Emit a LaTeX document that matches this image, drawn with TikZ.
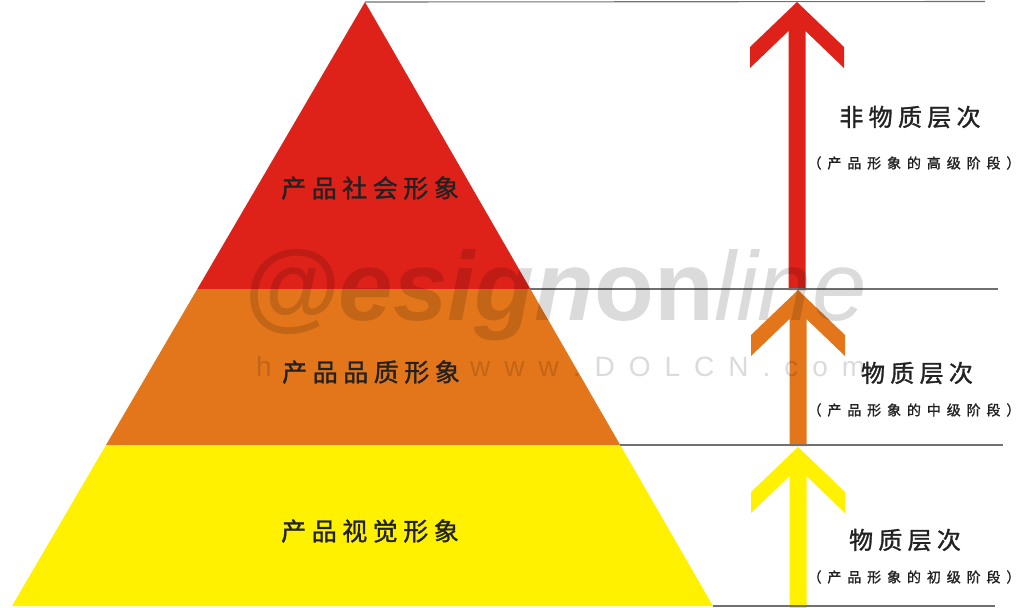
\documentclass[tikz,border=0pt]{standalone}
\usepackage{fontspec}
\setmainfont{Liberation Sans}
\newfontfamily\cjkbig[LetterSpace=22,FakeBold=1.3]{Noto Sans CJK SC}
\newfontfamily\cjksmall[LetterSpace=42,FakeBold=1.3]{Noto Sans CJK SC}
\newfontfamily\wmfont{Liberation Sans}
\definecolor{pred}{HTML}{DE2119}
\definecolor{porange}{HTML}{E3761B}
\definecolor{pyellow}{HTML}{FFF100}
\definecolor{lgray}{HTML}{707070}
\definecolor{ink}{HTML}{222222}
\newcommand\uparrowshape[4]{%
  \fill[#1] (#2,#3) -- ({#2+47},{#3+45}) -- ({#2+47},{#3+66}) -- ({#2+8.5},{#3+29})
    -- ({#2+8.5},#4) -- ({#2-8.5},#4) -- ({#2-8.5},{#3+29}) -- ({#2-47},{#3+66})
    -- ({#2-47},{#3+45}) -- cycle;}
\tikzset{
  level/.style={font=\cjkbig\fontsize{25}{28}\selectfont, text=ink, inner sep=0pt},
  tier/.style={font=\cjkbig\fontsize{24}{28}\selectfont, text=ink, inner sep=0pt},
  stage/.style={font=\cjksmall\fontsize{14}{16}\selectfont, text=ink, inner sep=0pt},
  sepline/.style={draw=lgray, line width=1.1pt},
  watermark/.style={text=black, opacity=0.14, inner sep=0pt, anchor=base west}
}
\begin{document}
\begin{tikzpicture}[x=1pt,y=-1pt]
\useasboundingbox (0,0) rectangle (1021,608);
% pyramid
\coordinate (apex) at (365,2);
\coordinate (bl) at (12,606);
\coordinate (br) at (713,606);
\coordinate (ml1) at (197.3,289);
\coordinate (mr1) at (530.4,289);
\coordinate (ml2) at (106,445);
\coordinate (mr2) at (620.2,445);
\fill[pred] (apex) -- (mr1) -- (ml1) -- cycle;
\fill[porange] (ml1) -- (mr1) -- (mr2) -- (ml2) -- cycle;
\fill[pyellow] (ml2) -- (mr2) -- (br) -- (bl) -- cycle;
% arrows
\uparrowshape{pred}{797}{2}{290}
\uparrowshape{porange}{798}{290}{446}
\uparrowshape{pyellow}{798}{447}{608}
% separator lines
\coordinate (t1) at (985,1.5);
\coordinate (t2) at (998,289);
\coordinate (t3) at (1003,445);
\coordinate (t4) at (995,606);
\draw[sepline] (apex) -- (t1);
\draw[sepline] (mr1) -- (t2);
\draw[sepline] (mr2) -- (t3);
\draw[sepline] (br) -- (t4);
% watermark
\node[watermark, font=\wmfont\bfseries\itshape\fontsize{98}{104}\selectfont] (wm1) at (243,320) {@esign\upshape on\mdseries\itshape line};
\node[watermark, font=\wmfont\fontsize{28}{32}\selectfont] (wm2) at (256,376) {h};
\node[watermark, font=\wmfont\fontsize{28}{32}\selectfont] (wm3) at (470,376) {w\,\,\,w\,\,\,w\,\,\,.\,\,\,D\,\,\,O\,\,\,L\,\,\,C\,\,\,N\,\,\,.\,\,\,c\,\,\,o\,\,\,m};
% labels
\node[level] (l1) at (370,188) {产品社会形象};
\node[level] (l2) at (371,372) {产品品质形象};
\node[level] (l3) at (370,531) {产品视觉形象};
\node[tier] (r1) at (910,117) {非物质层次};
\node[stage] (s1) at (914,163) {（产品形象的高级阶段）};
\node[tier] (r2) at (917,373) {物质层次};
\node[stage] (s2) at (914,410) {（产品形象的中级阶段）};
\node[tier] (r3) at (905,540) {物质层次};
\node[stage] (s3) at (914,577) {（产品形象的初级阶段）};
\end{tikzpicture}
\end{document}
